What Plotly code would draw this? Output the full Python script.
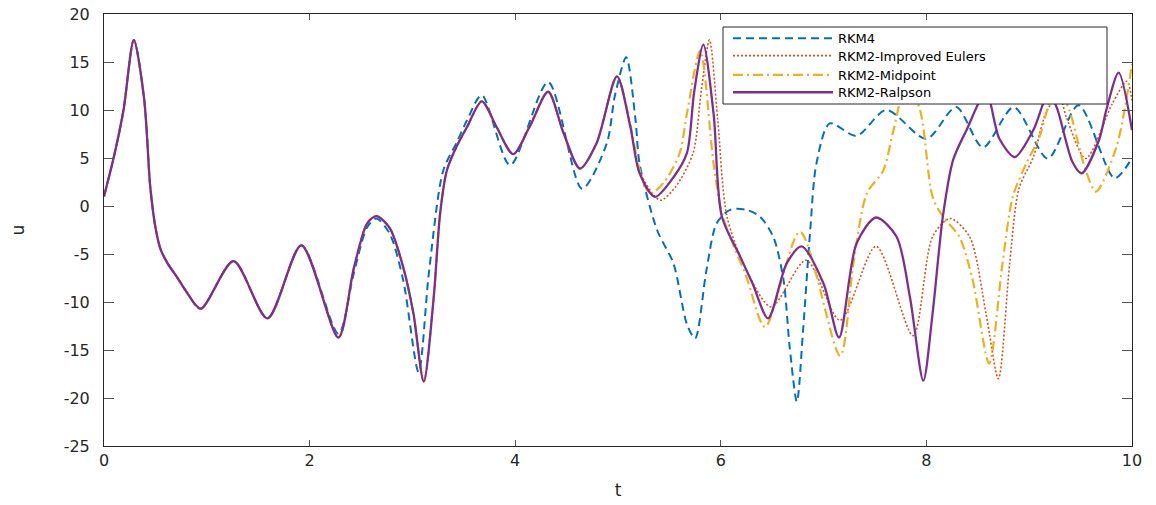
import plotly.graph_objects as go

# ---------------- data ----------------
# start of the solution, shared by the three RKM2 variants
t_common = [0, 0.1, 0.19, 0.29, 0.39, 0.45, 0.5, 0.55, 0.62, 0.71, 0.8, 0.94, 1.26, 1.59,
            1.92, 2.28, 2.43, 2.56, 2.65, 2.78, 2.91, 3.01, 3.11, 3.205, 3.27, 3.335, 3.43,
            3.53, 3.675, 3.82, 3.98, 4.14, 4.32, 4.47, 4.63, 4.79, 4.99]
u_common = [1.0, 5.3, 10.0, 17.3, 11.2, 2.0, -2.2, -4.5, -6.0, -7.4, -8.9, -10.7, -5.75, -11.7,
            -4.1, -13.7, -6.5, -1.8, -1.06, -2.3, -6.35, -11.2, -18.3, -9.8, -0.75, 3.7, 6.2,
            8.2, 10.9, 8.2, 5.4, 8.25, 11.9, 7.6, 3.9, 6.5, 13.5]

t_rkm4 = [0, 0.1, 0.19, 0.29, 0.39, 0.45, 0.5, 0.55, 0.62, 0.71, 0.8, 0.94, 1.26, 1.59, 1.92,
          2.28, 2.43, 2.56, 2.65, 2.78, 2.91, 3.06, 3.16, 3.30, 3.43, 3.53, 3.675, 3.95, 4.32,
          4.65, 4.89, 4.97, 5.08, 5.17, 5.21, 5.38, 5.54, 5.67, 5.75, 5.86, 5.96, 6.09, 6.25,
          6.38, 6.51, 6.61, 6.67, 6.74, 6.80, 6.87, 6.93, 7.06, 7.32, 7.61, 8.0, 8.29, 8.55,
          8.85, 9.18, 9.48, 9.83, 10.0]
u_rkm4 = [1.0, 5.3, 10.0, 17.3, 11.2, 2.0, -2.2, -4.5, -6.0, -7.4, -8.9, -10.7, -5.75, -11.7, -4.1,
          -13.3, -7.0, -2.2, -1.3, -2.9, -7.7, -17.3, -7.0, 3.7, 6.6, 8.9, 11.55, 4.25, 12.9,
          1.8, 6.5, 11.5, 15.5, 9.0, 4.4, -2.5, -6.0, -12.3, -13.8, -6.7, -1.8, -0.4, -0.4,
          -1.1, -3.2, -7.7, -14.7, -20.4, -13.0, -2.5, 4.4, 8.6, 7.3, 10.0, 7.0, 10.3, 6.1,
          10.3, 4.95, 10.5, 2.9, 5.0]

t_euler_tail = [5.12, 5.21, 5.41, 5.56, 5.73, 5.81, 5.89, 5.97, 6.06, 6.25, 6.49, 6.83, 7.16,
                7.51, 7.87, 8.06, 8.23, 8.42, 8.58, 8.70, 8.81, 8.90, 9.04, 9.17, 9.29, 9.36,
                9.55, 9.81, 9.95, 10.0]
u_euler_tail = [8.4, 3.6, 0.6, 2.0, 5.5, 12.0, 17.3, 9.0, -1.1, -6.7, -10.5, -5.65, -11.9,
                -4.2, -13.5, -3.2, -1.3, -3.2, -11.2, -18.0, -6.0, 1.8, 5.1, 9.9, 11.5, 9.3,
                4.95, 10.7, 13.0, 11.0]

t_mid_tail = [5.12, 5.21, 5.31, 5.45, 5.60, 5.67, 5.80, 5.93, 6.02, 6.25, 6.43, 6.77, 7.16,
              7.29, 7.42, 7.58, 7.68, 7.80, 7.93, 8.06, 8.16, 8.32, 8.45, 8.61, 8.74, 8.84,
              8.97, 9.10, 9.20, 9.30, 9.39, 9.55, 9.65, 9.85, 10.0]
u_mid_tail = [8.5, 3.8, 1.3, 2.5, 5.5, 9.6, 16.2, 4.4, -1.1, -7.4, -12.6, -2.7, -15.6,
              -6.0, 1.3, 3.7, 7.9, 12.5, 10.3, 0.95, -1.1, -3.2, -7.7, -16.4, -6.0, 0.95,
              4.4, 7.2, 10.7, 12.0, 10.0, 3.7, 1.5, 6.2, 14.8]

t_ral_tail = [5.12, 5.21, 5.36, 5.54, 5.67, 5.74, 5.83, 5.93, 6.01, 6.19, 6.31, 6.46, 6.64,
              6.785, 7.0, 7.15, 7.32, 7.51, 7.71, 7.84, 7.97, 8.06, 8.16, 8.26, 8.39, 8.58,
              8.71, 8.86, 9.04, 9.19, 9.27, 9.42, 9.51, 9.68, 9.75, 9.87, 10.0]
u_ral_tail = [8.25, 3.4, 0.95, 3.0, 5.5, 11.8, 16.8, 9.6, -1.1, -5.3, -8.1, -11.7, -6.0,
              -4.2, -8.1, -13.7, -3.9, -1.2, -3.2, -9.5, -18.2, -11.2, -1.1, 4.8, 7.9, 11.8,
              7.0, 5.1, 7.9, 11.8, 10.2, 4.6, 3.4, 6.9, 10.0, 13.9, 7.9]

names = ["RKM4", "RKM2-Improved Eulers", "RKM2-Midpoint", "RKM2-Ralpson"]
x_ticks = [0, 2, 4, 6, 8, 10]
y_ticks = [-25, -20, -15, -10, -5, 0, 5, 10, 15, 20]

# ---------------- figure ----------------
W, H = 1156, 505
L, R, T, B = 104, 24, 14, 59
pw, ph = W - L - R, H - T - B


def px_x(p):
    return (p - L) / pw


def px_y(p):
    return (H - B - p) / ph


fig = go.Figure()
series = [
    (t_rkm4, u_rkm4, "#0072BD", 2.0, "8px,5px"),
    (t_common + t_euler_tail, u_common + u_euler_tail, "#D95319", 1.6, "2px,2px"),
    (t_common + t_mid_tail, u_common + u_mid_tail, "#EDB120", 2.2, "10px,4px,2px,4px"),
    (t_common + t_ral_tail, u_common + u_ral_tail, "#7E2F8E", 2.3, "solid"),
]
legend_ids = ["legend", "legend2", "legend3", "legend4"]
for (tx, uy, col, w, dash), nm, lg in zip(series, names, legend_ids):
    fig.add_trace(go.Scatter(
        x=tx, y=uy, name=nm, mode="lines", legend=lg,
        line=dict(color=col, width=w, dash=dash, shape="spline", smoothing=0.8),
    ))

axis_common = dict(
    showgrid=False, zeroline=False, showline=True, linecolor="#262626", linewidth=1,
    mirror="allticks", ticks="inside", tickcolor="#555555", tickwidth=1,
    tickfont=dict(family="DejaVu Sans", size=16, color="#262626"),
)

fig.update_xaxes(
    range=[0, 10], tickvals=x_ticks, ticktext=[str(v) for v in x_ticks], ticklen=6,
    title=dict(text="t", font=dict(family="DejaVu Sans", size=17, color="#262626"), standoff=14),
    **axis_common,
)
fig.update_yaxes(
    range=[-25, 20], tickvals=y_ticks, ticktext=[str(v) for v in y_ticks], ticklen=10,
    ticklabelstandoff=10,
    title=dict(text="u", font=dict(family="DejaVu Sans", size=17, color="#262626"), standoff=34),
    **axis_common,
)

# legend frame
fig.add_shape(
    type="rect", xref="paper", yref="paper",
    x0=px_x(723), x1=px_x(1107), y0=px_y(104), y1=px_y(27),
    line=dict(color="#262626", width=1), fillcolor="white", layer="above",
)

row_centers = [39.3, 56.7, 76.0, 93.3]
legend_style = dict(
    xanchor="left", yanchor="top",
    bgcolor="rgba(0,0,0,0)", borderwidth=0,
    font=dict(family="DejaVu Sans", size=13, color="#000000"),
    itemwidth=100,
)
layout_legends = {}
for lg, yc in zip(legend_ids, row_centers):
    layout_legends[lg] = dict(x=px_x(728), y=px_y(yc - 16), **legend_style)

fig.update_layout(
    width=W, height=H,
    margin=dict(l=L, r=R, t=T, b=B, autoexpand=False),
    paper_bgcolor="white", plot_bgcolor="white",
    showlegend=True,
    **layout_legends,
)

fig.write_html("out.html")
